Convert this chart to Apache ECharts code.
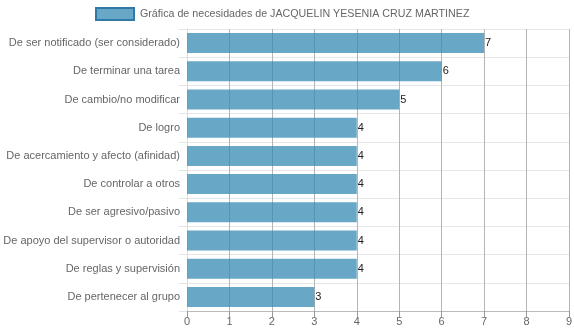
<!DOCTYPE html>
<html>
<head>
<meta charset="utf-8">
<script src="https://cdn.jsdelivr.net/npm/echarts@6/dist/echarts.min.js"></script>
<style>html,body{margin:0;padding:0;background:#fff}#c{width:574px;height:334px}</style>
</head>
<body>
<div id="c"></div>
<script>
var categories = [
  "De ser notificado (ser considerado)",
  "De terminar una tarea",
  "De cambio/no modificar",
  "De logro",
  "De acercamiento y afecto (afinidad)",
  "De controlar a otros",
  "De ser agresivo/pasivo",
  "De apoyo del supervisor o autoridad",
  "De reglas y supervisión",
  "De pertenecer al grupo"
];
var values = [7, 6, 5, 4, 4, 4, 4, 4, 4, 3];
var seriesName = "Gráfica de necesidades de JACQUELIN YESENIA CRUZ MARTINEZ";

var chart = echarts.init(document.getElementById('c'), null, {renderer: 'canvas'});
var font = "'Liberation Sans', Arial, sans-serif";
var barColor = 'rgba(55,137,180,0.75)';
chart.setOption({
  animation: false,
  textStyle: {fontFamily: font},
  legend: {
    top: 7,
    left: 95,
    padding: 0,
    itemWidth: 38,
    itemHeight: 12,
    itemGap: 6,
    icon: 'rect',
    textStyle: {fontSize: 10.7, color: '#666', fontFamily: font, padding: [0,0,0,1]},
    data: [{name: seriesName, itemStyle: {color: barColor, borderColor: '#2f7aa6', borderWidth: 2}}]
  },
  grid: {left: 187, right: 5, top: 29, bottom: 23, containLabel: false, outerBoundsMode: 'none'},
  xAxis: {
    type: 'value',
    min: 0, max: 9, interval: 1,
    axisLine: {show: true, lineStyle: {color: '#bbb', width: 1}},
    axisTick: {show: true, length: 6, lineStyle: {color: '#999'}},
    axisLabel: {color: '#666', fontSize: 11, margin: 5, fontFamily: font},
    splitLine: {show: true, lineStyle: {color: '#b5b5b5', width: 1}}
  },
  yAxis: {
    type: 'category',
    inverse: true,
    data: categories,
    axisLine: {show: true, lineStyle: {color: '#ddd'}},
    axisTick: {show: true, length: 8, lineStyle: {color: '#e3e3e3'}},
    axisLabel: {color: '#666', fontSize: 11, margin: 7, fontFamily: font},
    splitLine: {show: true, lineStyle: {color: '#e6e6e6', width: 1}}
  },
  series: [{
    name: seriesName,
    type: 'bar',
    data: values,
    barWidth: 20,
    itemStyle: {
      color: barColor
    },
    label: {
      show: true,
      position: 'right',
      distance: 1,
      fontSize: 11,
      color: '#222',
      fontFamily: font
    }
  }]
});
</script>
</body>
</html>
